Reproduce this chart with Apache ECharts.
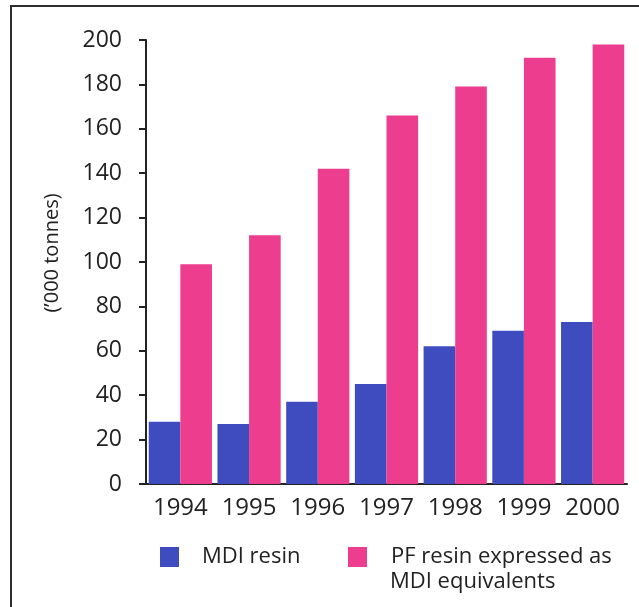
<!DOCTYPE html>
<html>
<head>
<meta charset="utf-8">
<script src="https://cdn.jsdelivr.net/npm/echarts@6/dist/echarts.min.js"></script>
<style>html,body{margin:0;padding:0;background:#fff;}#c{width:639px;height:607px;}</style>
</head>
<body>
<div id="c"></div>
<script>
var years = ['1994', '1995', '1996', '1997', '1998', '1999', '2000'];
var mdiResin = [28, 27, 37, 45, 62, 69, 73];
var pfResin = [99, 112, 142, 166, 179, 192, 198];
var yTicks = [0, 20, 40, 60, 80, 100, 120, 140, 160, 180, 200];
var seriesNames = ['MDI resin', 'PF resin expressed as\nMDI equivalents'];
var yAxisTitle = '(\u2019000 tonnes)';

var FONT = '"Open Sans", sans-serif';
var TXT = '#222';
var chart = echarts.init(document.getElementById('c'), null, {renderer: 'canvas'});
chart.setOption({
  animation: false,
  backgroundColor: '#fff',
  graphic: [{
    type: 'rect', silent: true,
    shape: {x: 11, y: 6, width: 800, height: 800},
    style: {fill: null, stroke: '#2e2e2e', lineWidth: 2}
  }, {
    type: 'text', silent: true, left: 390, top: 571,
    style: {text: seriesNames[1].split('\n')[1], fontFamily: FONT, fontSize: 22, fill: TXT}
  }],
  grid: {left: 146, right: 12, top: 40, bottom: 123, containLabel: false},
  legend: [{
    data: [seriesNames[0]], left: 160, top: 546, padding: 0,
    itemWidth: 19, itemHeight: 20, icon: 'rect',
    textStyle: {fontFamily: FONT, fontSize: 22, color: TXT, padding: [0, 0, 0, 18]}
  }, {
    data: [seriesNames[1]], left: 348, top: 546, padding: 0,
    itemWidth: 19, itemHeight: 20, icon: 'rect',
    formatter: function (n) { return n.split('\n')[0]; },
    textStyle: {fontFamily: FONT, fontSize: 22, color: TXT, padding: [0, 0, 0, 19]}
  }],
  xAxis: {
    type: 'category', data: years,
    axisLine: {show: true, lineStyle: {color: '#222', width: 2}},
    axisTick: {show: false},
    axisLabel: {fontFamily: FONT, fontSize: 24, color: TXT, margin: 12, interval: 0},
    splitLine: {show: false}
  },
  yAxis: {
    type: 'value', min: yTicks[0], max: yTicks[yTicks.length - 1], interval: yTicks[1] - yTicks[0],
    name: yAxisTitle, nameLocation: 'middle', nameGap: 84, nameRotate: 90,
    nameTextStyle: {fontFamily: FONT, fontSize: 20, color: TXT, padding: [0, 0, 0, 18]},
    axisLine: {show: true, lineStyle: {color: '#222', width: 2}},
    axisTick: {show: true, length: 7, lineStyle: {color: '#222', width: 2}},
    axisLabel: {fontFamily: FONT, fontSize: 23, color: TXT, margin: 24},
    splitLine: {show: false}
  },
  series: [{
    name: seriesNames[0], type: 'bar', data: mdiResin,
    barGap: '0%', barCategoryGap: '8%',
    itemStyle: {color: '#3e4cc0'}
  }, {
    name: seriesNames[1], type: 'bar', data: pfResin,
    barGap: '0%', barCategoryGap: '8%',
    itemStyle: {color: '#ec3d8e'}
  }]
});
</script>
</body>
</html>
